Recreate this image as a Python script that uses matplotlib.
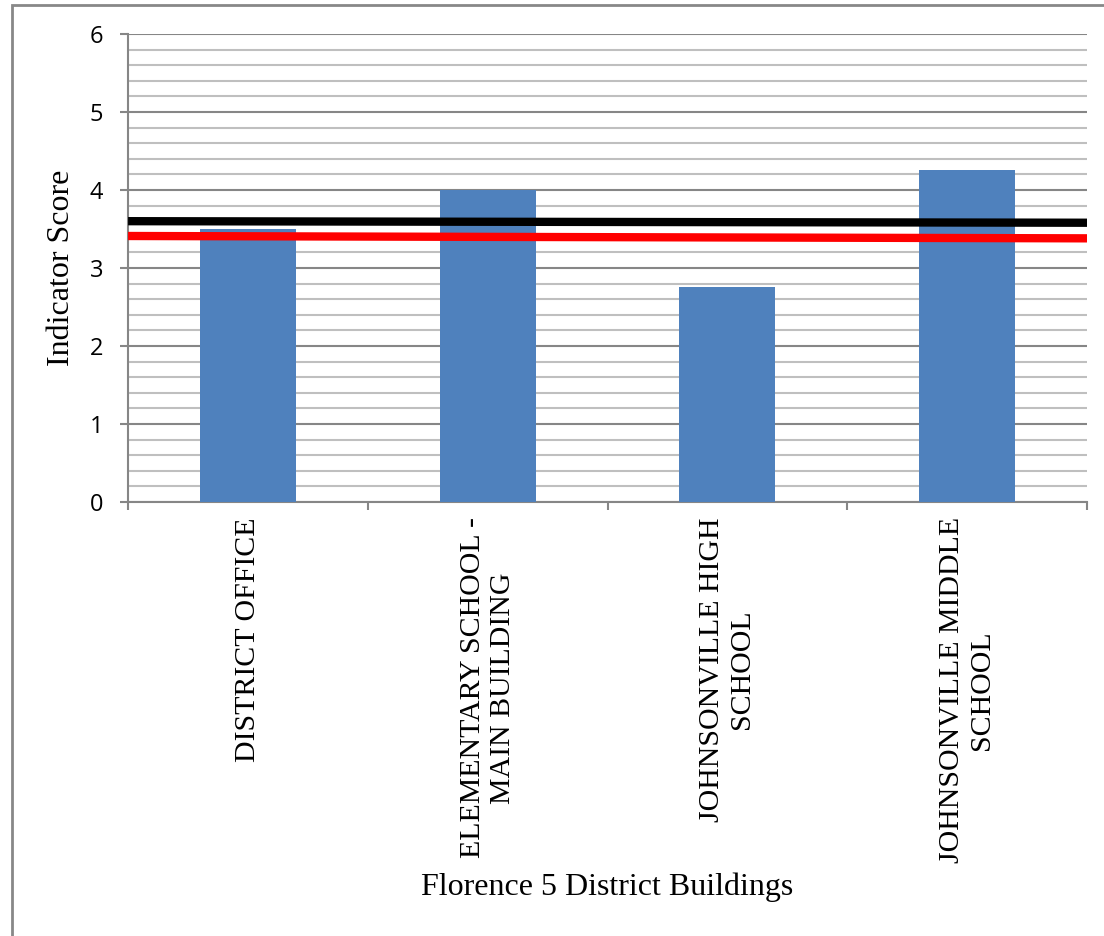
import matplotlib.pyplot as plt
import numpy as np
from matplotlib.patches import Rectangle
from matplotlib.ticker import MultipleLocator

buildings = ["DISTRICT OFFICE", "ELEMENTARY SCHOOL -\nMAIN BUILDING",
             "JOHNSONVILLE HIGH\nSCHOOL", "JOHNSONVILLE MIDDLE\nSCHOOL"]
scores = [3.5, 4.0, 2.75, 4.25]
black_line = [3.60, 3.58]
red_line = [3.41, 3.38]

fig = plt.figure(figsize=(11.04, 9.36), dpi=100)
ax = fig.add_axes([0.116, 0.4637, 0.8686, 0.5])

x = np.arange(len(buildings))
ax.bar(x, scores, width=0.4, color="#4F81BD", zorder=3)
ax.plot([-0.5, 3.5], black_line, color="black", lw=6, zorder=4, solid_capstyle="butt")
ax.plot([-0.5, 3.5], red_line, color="#FF0000", lw=6, zorder=4, solid_capstyle="butt")

ax.set_xlim(-0.5, 3.5)
ax.set_ylim(0, 6)

# gridlines: light every 0.2, darker at integers
ax.yaxis.set_major_locator(MultipleLocator(1))
ax.yaxis.set_minor_locator(MultipleLocator(0.2))
ax.grid(axis="y", which="minor", color="#BFBFBF", lw=1.5, zorder=0)
ax.grid(axis="y", which="major", color="#868686", lw=1.5, zorder=1)
ax.tick_params(axis="y", which="minor", length=0)
ax.tick_params(axis="y", which="major", length=6, width=1.5, color="#868686",
               labelsize=17, pad=12)
for lab in ax.get_yticklabels():
    lab.set_fontfamily("Open Sans")

ax.set_xticks(x)
ax.set_xticklabels(buildings, rotation=90, ha="center", va="top",
                   multialignment="center", fontfamily="Liberation Serif", fontsize=21.5)
ax.tick_params(axis="x", which="major", length=0, pad=11)
ax.set_xticks(np.arange(-0.5, 4, 1), minor=True)
ax.tick_params(axis="x", which="minor", length=6, width=1.5, color="#868686")

for s in ["top", "right"]:
    ax.spines[s].set_visible(False)
for s in ["left", "bottom"]:
    ax.spines[s].set_color("#868686")
    ax.spines[s].set_linewidth(1.5)

ax.set_ylabel("Indicator Score", fontfamily="Liberation Serif", fontsize=23, labelpad=10)
fig.text(0.55, 0.052, "Florence 5 District Buildings", ha="center", va="center",
         fontfamily="Liberation Serif", fontsize=23)

fig.patches.append(Rectangle((0.011, -0.05), 1.1, 0.05 + 0.9947, transform=fig.transFigure,
                             fill=False, edgecolor="#888888", lw=2))

plt.savefig("out.png", dpi=100)
